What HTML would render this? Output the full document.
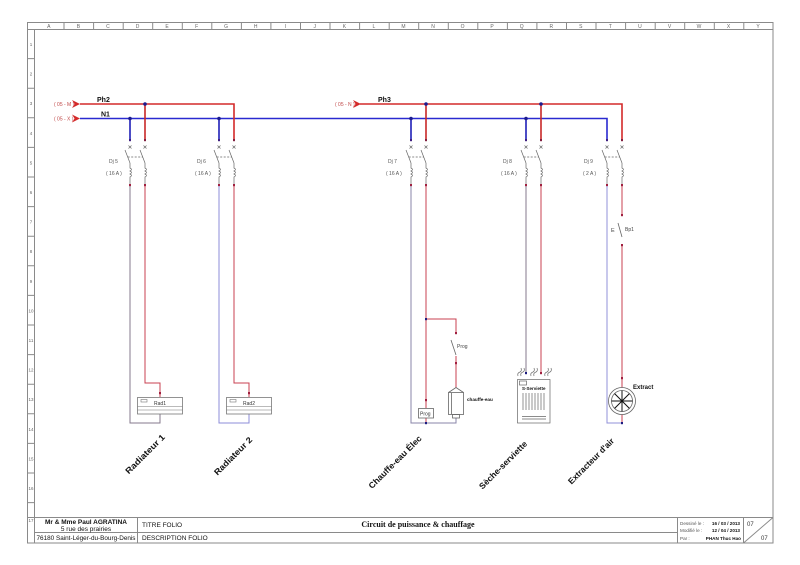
<!DOCTYPE html>
<html><head><meta charset="utf-8">
<style>
html,body{margin:0;padding:0;background:#fff;}
svg{display:block;}
text{font-family:"Liberation Sans",sans-serif;}
</style></head><body>
<svg width="800" height="565" viewBox="0 0 800 565" xmlns="http://www.w3.org/2000/svg">
<rect width="800" height="565" fill="#fff"/>
<defs>
<g id="brk" fill="none">
 <g stroke="#666" stroke-width="0.7">
  <path d="M-1.5 145.5 l3 3 M1.5 145.5 l-3 3"/>
  <path d="M13.5 145.5 l3 3 M16.5 145.5 l-3 3"/>
  <line x1="-5" y1="150" x2="0" y2="163"/>
  <line x1="10" y1="150" x2="15" y2="163"/>
  <line x1="-2.3" y1="157" x2="12.7" y2="157" stroke-dasharray="2 1.5"/>
  <path d="M0 163 v5 q3 1.5 0 3 q3 1.5 0 3 q3 1.5 0 3 v8"/>
  <path d="M15 163 v5 q3 1.5 0 3 q3 1.5 0 3 q3 1.5 0 3 v8"/>
 </g>
 <rect x="-1" y="139" width="2" height="2.2" fill="#402080"/>
 <rect x="14" y="139" width="2" height="2.2" fill="#802040"/>
 <rect x="-1" y="184" width="2" height="2.2" fill="#a02040"/>
 <rect x="14" y="184" width="2" height="2.2" fill="#a02040"/>
</g>
</defs>

<!-- frame -->
<g stroke="#8a8a8a" stroke-width="1" fill="none">
 <rect x="27.5" y="22.5" width="745.5" height="520.5"/>
 <line x1="34.5" y1="29.5" x2="773" y2="29.5"/>
 <line x1="34.5" y1="29.5" x2="34.5" y2="543"/>
 <line x1="27.5" y1="29.5" x2="34.5" y2="29.5"/>
 <path d="M64 22.5v7M93.6 22.5v7M123.2 22.5v7M152.7 22.5v7M182.3 22.5v7M211.8 22.5v7M241.4 22.5v7M270.9 22.5v7M300.5 22.5v7M330 22.5v7M359.6 22.5v7M389.2 22.5v7M418.7 22.5v7M448.3 22.5v7M477.8 22.5v7M507.4 22.5v7M536.9 22.5v7M566.5 22.5v7M596 22.5v7M625.6 22.5v7M655.2 22.5v7M684.7 22.5v7M714.3 22.5v7M743.8 22.5v7"/>
 <path d="M27.5 58.6h7M27.5 88.2h7M27.5 117.8h7M27.5 147.4h7M27.5 177h7M27.5 206.6h7M27.5 236.2h7M27.5 265.8h7M27.5 295.4h7M27.5 325h7M27.5 354.6h7M27.5 384.2h7M27.5 413.8h7M27.5 443.4h7M27.5 473h7M27.5 502.6h7"/>
 <!-- title block -->
 <line x1="27.5" y1="517.5" x2="773" y2="517.5"/>
 <line x1="34.5" y1="532.5" x2="677.5" y2="532.5"/>
 <line x1="137.5" y1="517.5" x2="137.5" y2="543"/>
 <line x1="677.5" y1="517.5" x2="677.5" y2="543"/>
 <line x1="743.5" y1="517.5" x2="743.5" y2="543"/>
 <line x1="743.5" y1="543" x2="773" y2="517.5"/>
</g>
<g font-size="5" fill="#666" text-anchor="middle">
 <text x="48.8" y="27.8">A</text><text x="78.4" y="27.8">B</text><text x="107.9" y="27.8">C</text><text x="137.5" y="27.8">D</text><text x="167" y="27.8">E</text><text x="196.6" y="27.8">F</text><text x="226.1" y="27.8">G</text><text x="255.7" y="27.8">H</text><text x="285.3" y="27.8">I</text><text x="314.8" y="27.8">J</text><text x="344.4" y="27.8">K</text><text x="373.9" y="27.8">L</text><text x="403.5" y="27.8">M</text><text x="433" y="27.8">N</text><text x="462.6" y="27.8">O</text><text x="492.1" y="27.8">P</text><text x="521.7" y="27.8">Q</text><text x="551.3" y="27.8">R</text><text x="580.8" y="27.8">S</text><text x="610.4" y="27.8">T</text><text x="639.9" y="27.8">U</text><text x="669.5" y="27.8">V</text><text x="699" y="27.8">W</text><text x="728.6" y="27.8">X</text><text x="758.1" y="27.8">Y</text>
</g>
<g font-size="4.5" fill="#666" text-anchor="middle">
 <text x="31" y="46">1</text><text x="31" y="75.6">2</text><text x="31" y="105.2">3</text><text x="31" y="134.8">4</text><text x="31" y="164.4">5</text><text x="31" y="194">6</text><text x="31" y="223.6">7</text><text x="31" y="253.2">8</text><text x="31" y="282.8">9</text><text x="31" y="312.4">10</text><text x="31" y="342">11</text><text x="31" y="371.6">12</text><text x="31" y="401.2">13</text><text x="31" y="430.8">14</text><text x="31" y="460.4">15</text><text x="31" y="490">16</text><text x="31" y="522">17</text>
</g>

<!-- bus lines -->
<g fill="none" stroke-width="1.6">
 <path d="M80 118.5H607V139" stroke="#2a2ad0"/>
 <path d="M130 118.5V139M219 118.5V139M411 118.5V139M526 118.5V139" stroke="#2020b8"/>
 <path d="M80 104H234V139" stroke="#d42a2a"/>
 <path d="M360 104H622V139" stroke="#d42a2a"/>
 <path d="M145 104V139M426 104V139M541 104V139" stroke="#c82828"/>
</g>
<g fill="#1c1c90">
 <circle cx="145" cy="104" r="1.8"/><circle cx="130" cy="118.5" r="1.8"/><circle cx="219" cy="118.5" r="1.8"/>
 <circle cx="426" cy="104" r="1.8"/><circle cx="411" cy="118.5" r="1.8"/><circle cx="541" cy="104" r="1.8"/><circle cx="526" cy="118.5" r="1.8"/>
</g>
<!-- arrows -->
<g fill="#d42a2a">
 <polygon points="72,100 80,104 72,108 74.5,104"/>
 <polygon points="72,114.5 80,118.5 72,122.5 74.5,118.5"/>
 <polygon points="353,100 361,104 353,108 355.5,104"/>
</g>
<g font-size="5" fill="#c04848">
 <text x="54" y="106">( 05 - M )</text>
 <text x="54" y="120.5">( 05 - X )</text>
 <text x="335" y="106">( 05 - N )</text>
</g>
<g font-size="7" fill="#111" font-weight="bold">
 <text x="97" y="102">Ph2</text>
 <text x="101" y="116.5">N1</text>
 <text x="378" y="102">Ph3</text>
</g>

<!-- breakers -->
<use href="#brk" x="130"/>
<use href="#brk" x="219"/>
<use href="#brk" x="411"/>
<use href="#brk" x="526"/>
<use href="#brk" x="607"/>
<g font-size="5" fill="#555">
 <text x="109" y="163">Dj 5</text><text x="106" y="175">( 16 A )</text>
 <text x="197" y="163">Dj 6</text><text x="195" y="175">( 16 A )</text>
 <text x="388" y="163">Dj 7</text><text x="386" y="175">( 16 A )</text>
 <text x="503" y="163">Dj 8</text><text x="501" y="175">( 16 A )</text>
 <text x="584" y="163">Dj 9</text><text x="583" y="175">( 2 A )</text>
</g>

<!-- downstream wiring -->
<g fill="none" stroke-width="1">
 <path d="M130 186V423H160V414" stroke="#857a8c"/>
 <path d="M145 186V383H160V397" stroke="#c84050"/>
 <path d="M219 186V423H249V414" stroke="#8c8cd8"/>
 <path d="M234 186V383H249V397" stroke="#c84050"/>
 <path d="M411 186V423H456V418" stroke="#8a84a8"/>
 <path d="M426 186V408M426 418V423" stroke="#c84050"/>
 <path d="M426 319H456V333M456 356V388" stroke="#c84050"/>
 <path d="M526 186V373" stroke="#857a8c"/>
 <path d="M541 186V373" stroke="#c84050"/>
 <path d="M607 186V423H622" stroke="#9090d8"/>
 <path d="M622 186V215M622 245V388M622 414V423" stroke="#c84050"/>
</g>
<g fill="#a02040">
 <rect x="159" y="392" width="2" height="2.2"/>
 <rect x="248" y="392" width="2" height="2.2"/>
 <rect x="425" y="399" width="2" height="2.2"/>
 <rect x="455" y="332" width="2" height="2.2"/>
 <rect x="455" y="362" width="2" height="2.2"/>
 <rect x="540" y="372" width="2" height="2.2"/>
 <rect x="621" y="214" width="2" height="2.2"/>
 <rect x="621" y="244" width="2" height="2.2"/>
 <rect x="621" y="377" width="2" height="2.2"/>
</g>
<g fill="#1c1c80">
 <rect x="425" y="318" width="2" height="2.2"/>
 <rect x="425" y="422" width="2" height="2.2"/>
 <rect x="525" y="372" width="2" height="2.2"/>
 <rect x="621" y="422" width="2" height="2.2"/>
</g>

<!-- Radiators -->
<g fill="#fff" stroke="#777" stroke-width="0.8">
 <rect x="137.5" y="397.5" width="45" height="16.5"/>
 <rect x="226.5" y="397.5" width="45" height="16.5"/>
</g>
<g fill="none" stroke="#777" stroke-width="0.6">
 <path d="M137.5 406.5h45M137.5 410h45M226.5 406.5h45M226.5 410h45"/>
 <rect x="141" y="399.5" width="6" height="2.5"/>
 <rect x="230" y="399.5" width="6" height="2.5"/>
</g>
<g font-size="5" fill="#333" text-anchor="middle">
 <text x="160" y="405">Rad1</text>
 <text x="249" y="405">Rad2</text>
</g>

<!-- Chauffe-eau -->
<g fill="none" stroke="#666" stroke-width="0.8">
 <line x1="451" y1="340" x2="456" y2="355"/>
 <rect x="418.5" y="408.5" width="15" height="9.5" fill="#fff"/>
 <path d="M448.5 392.5L456 387.5L463.5 392.5"/>
 <rect x="448.5" y="392.5" width="15" height="22" fill="#fff"/>
 <line x1="451.5" y1="393" x2="451.5" y2="414"/>
 <rect x="452.5" y="414.5" width="7" height="3.5"/>
</g>
<text x="457" y="348" font-size="5" fill="#444">Prog</text>
<text x="420" y="415.5" font-size="5" fill="#333">Prog</text>
<text x="467" y="401" font-size="4.6" fill="#111" font-weight="bold">chauffe-eau</text>

<!-- Seche-serviette -->
<g fill="none" stroke="#666" stroke-width="0.7">
 <path d="M518 376q-1-3 2-4q2-1 1-4M521 376q-1-3 2-4q2-1 1-4"/>
 <path d="M531 376q-1-3 2-4q2-1 1-4M534 376q-1-3 2-4q2-1 1-4"/>
 <path d="M545 376q-1-3 2-4q2-1 1-4M548 376q-1-3 2-4q2-1 1-4"/>
 <rect x="517.5" y="379.5" width="32.5" height="43.5" fill="#fff"/>
 <rect x="519.5" y="381" width="7" height="4"/>
 <path d="M523 393v17M526 393v17M529 393v17M532 393v17M535 393v17M538 393v17M541 393v17M544 393v17"/>
 <path d="M522 416.5h24M522 419h24"/>
</g>
<text x="522" y="390" font-size="4.5" fill="#111" font-weight="bold">S-Serviette</text>

<!-- Extractor -->
<g fill="none" stroke="#666" stroke-width="0.8">
 <line x1="618" y1="223" x2="622" y2="237"/>
 <circle cx="622" cy="401" r="13.5" fill="#fff"/>
 <circle cx="622" cy="401" r="10.5"/>
</g>
<g stroke="#111" stroke-width="1">
 <path d="M611.5 401h21M622 390.5v21M614.6 393.6l14.8 14.8M629.4 393.6l-14.8 14.8"/>
</g>
<text x="611" y="232" font-size="5.5" fill="#444">E</text>
<text x="625" y="231" font-size="5" fill="#444">Bp1</text>
<text x="633" y="389" font-size="6" fill="#111" font-weight="bold">Extract</text>

<!-- rotated labels -->
<g font-size="8.5" font-weight="bold" fill="#111" text-anchor="middle">
 <g transform="translate(145,454) rotate(-45)"><text x="0" y="3" textLength="52" lengthAdjust="spacingAndGlyphs">Radiateur 1</text></g>
 <g transform="translate(233,456) rotate(-45)"><text x="0" y="3" textLength="50" lengthAdjust="spacingAndGlyphs">Radiateur 2</text></g>
 <g transform="translate(395,462) rotate(-45)"><text x="0" y="3" textLength="71" lengthAdjust="spacingAndGlyphs">Chauffe-eau Élec</text></g>
 <g transform="translate(503,465) rotate(-45)"><text x="0" y="3" textLength="64" lengthAdjust="spacingAndGlyphs">Sèche-serviette</text></g>
 <g transform="translate(591,461) rotate(-45)"><text x="0" y="3" textLength="61" lengthAdjust="spacingAndGlyphs">Extracteur d'air</text></g>
</g>

<!-- title block text -->
<g fill="#111">
 <text x="86" y="524" font-size="6.5" font-weight="bold" text-anchor="middle">Mr &amp; Mme Paul AGRATINA</text>
 <text x="86" y="531" font-size="6.5" text-anchor="middle">5 rue des prairies</text>
 <text x="86" y="540" font-size="6.5" text-anchor="middle" textLength="99" lengthAdjust="spacingAndGlyphs">76180 Saint-Léger-du-Bourg-Denis</text>
 <text x="142" y="527" font-size="6.5">TITRE FOLIO</text>
 <text x="142" y="540" font-size="6.5">DESCRIPTION FOLIO</text>
 <text x="418" y="527" font-size="8" font-weight="bold" text-anchor="middle" font-family="Liberation Serif, serif" style="font-family:'Liberation Serif',serif">Circuit de puissance &amp; chauffage</text>
</g>
<g font-size="4.6" fill="#555">
 <text x="680" y="525">Dessiné le :</text>
 <text x="680" y="532">Modifié le :</text>
 <text x="680" y="540">Par :</text>
</g>
<g font-size="4.6" fill="#111" font-weight="bold" text-anchor="end">
 <text x="740" y="525">16 / 03 / 2013</text>
 <text x="740" y="532">12 / 04 / 2013</text>
 <text x="741" y="540">PHAN Thuc Hao</text>
</g>
<g font-size="6" fill="#333">
 <text x="747" y="526">07</text>
 <text x="761" y="540">07</text>
</g>
</svg>
</body></html>
